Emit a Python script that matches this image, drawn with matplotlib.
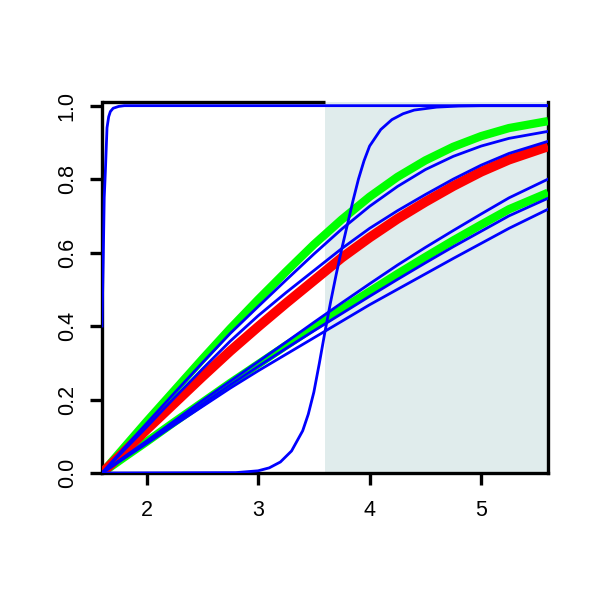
import matplotlib
matplotlib.use('Agg')
import matplotlib.pyplot as plt
from matplotlib.patches import Rectangle

plt.rcParams['font.family'] = ['Liberation Sans', 'DejaVu Sans']

# shared x grid for the slow curves
x_pts = [1.6, 1.8, 2.0, 2.25, 2.5, 2.75, 3.0, 3.25, 3.5, 3.75, 4.0, 4.25,
         4.5, 4.75, 5.0, 5.25, 5.6]

green_hi = [0, .07, .14, .225, .31, .393, .472, .548, .622, .690, .752, .806,
            .851, .888, .917, .939, .958]
blue_a = [0, .068, .135, .218, .30, .38, .453, .525, .596, .664, .726, .780,
          .826, .862, .89, .911, .930]
blue_b = [0, .063, .125, .205, .283, .359, .428, .491, .551, .611, .666, .714,
          .758, .80, .838, .870, .903]
red_mid = [0, .058, .118, .19, .262, .332, .398, .462, .524, .586, .641, .692,
           .738, .781, .82, .853, .889]
blue_c = [0, .044, .087, .142, .197, .25, .303, .356, .41, .463, .515, .566,
          .614, .66, .705, .749, .80]
green_lo = [0, .043, .085, .139, .192, .245, .296, .347, .397, .446, .494, .542,
            .588, .633, .676, .718, .763]
blue_d = [0, .042, .083, .136, .188, .24, .29, .339, .387, .434, .481, .527,
          .572, .616, .658, .70, .748]
blue_e = [0, .04, .08, .131, .181, .231, .278, .323, .368, .413, .458, .50,
          .542, .584, .625, .666, .718]

# steep curve right at the left edge
steep_x = [1.6, 1.612, 1.62, 1.63, 1.645, 1.66, 1.675, 1.7, 1.75, 1.8, 5.6]
steep_y = [0.4, 0.6, 0.75, 0.82, 0.94, 0.97, 0.984, 0.993, 0.998, 1.0, 1.0]

# sigmoid around x = 3.7
sig_x = [1.6, 2.8, 3.0, 3.1, 3.2, 3.3, 3.4, 3.45, 3.5, 3.55, 3.6, 3.65, 3.7,
         3.75, 3.8, 3.85, 3.9, 3.95, 4.0, 4.1, 4.2, 4.3, 4.4, 4.6, 4.8, 5.0, 5.6]
sig_y = [0, .001, .006, .014, .03, .06, .115, .16, .22, .30, .385, .465, .54,
         .61, .675, .74, .80, .85, .89, .935, .962, .978, .988, .996, .999,
         1.0, 1.0]

shade_from = 3.6
x_ticks = [2, 3, 4, 5]
y_ticks = [0.0, 0.2, 0.4, 0.6, 0.8, 1.0]

fig = plt.figure(figsize=(6, 6), dpi=100)
ax = fig.add_axes([102 / 600, 1 - 473 / 600, 446 / 600, 371 / 600])
xmin, xmax = 1.6, 5.6
ymin, ymax = 0, 1.01
ax.set_xlim(xmin, xmax)
ax.set_ylim(ymin, ymax)

ax.add_patch(Rectangle((shade_from, ymin), xmax - shade_from, ymax - ymin,
                       facecolor='#E0ECEC', edgecolor='none', zorder=1))

for y in [green_hi, green_lo]:
    ax.plot(x_pts, y, color='#00FF00', lw=6, zorder=3, solid_capstyle='butt')
ax.plot(x_pts, red_mid, color='#FF0000', lw=7, zorder=3.1, solid_capstyle='butt')
for y in [blue_a, blue_b, blue_c, blue_d, blue_e]:
    ax.plot(x_pts, y, color='#0000FF', lw=2, zorder=3.2)
ax.plot(steep_x, steep_y, color='#0000FF', lw=2, zorder=3.2)
ax.plot(sig_x, sig_y, color='#0000FF', lw=2, zorder=3.2)

# box: top edge only over the unshaded part
ax.spines['top'].set_visible(False)
for s in ['left', 'bottom', 'right']:
    ax.spines[s].set_linewidth(2.4)
ax.plot([xmin, shade_from], [ymax, ymax], color='black', lw=2.4,
        clip_on=False, zorder=2.6, solid_capstyle='butt')

ax.set_xticks(x_ticks)
ax.set_xticklabels([str(v) for v in x_ticks])
ax.set_yticks(y_ticks)
ax.set_yticklabels(['%.1f' % v for v in y_ticks], rotation=90, va='center')
ax.tick_params(axis='both', length=8.5, width=2.4, labelsize=15.5)
ax.tick_params(axis='x', pad=11)
ax.tick_params(axis='y', pad=9)

plt.savefig('out.png', dpi=100)
